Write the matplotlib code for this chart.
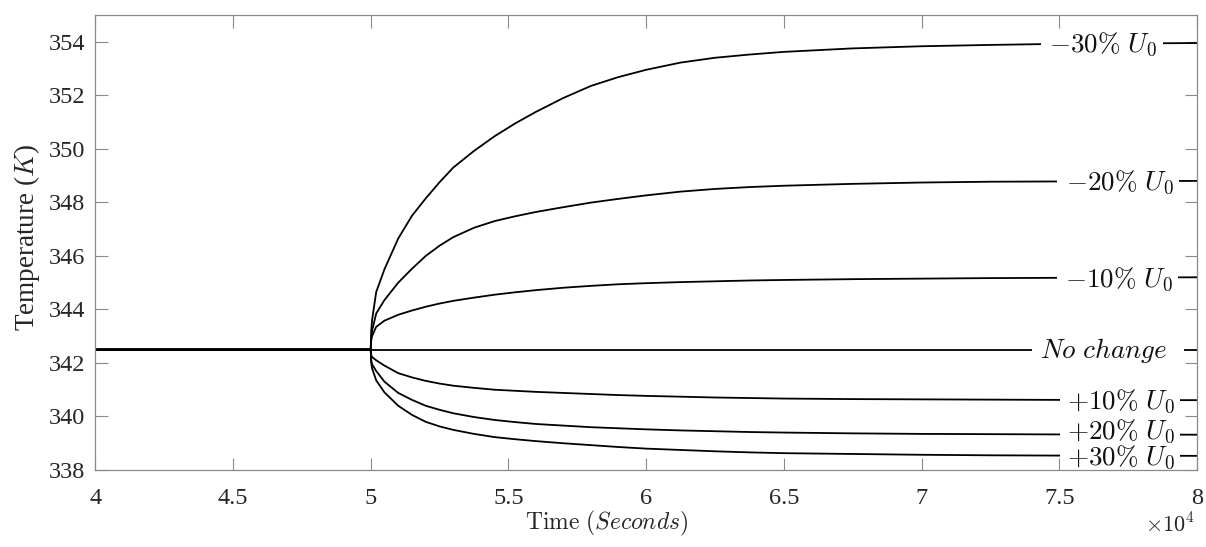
import matplotlib
matplotlib.use("Agg")
import matplotlib.pyplot as plt
from matplotlib.path import Path

plt.rcParams['font.family'] = ['Liberation Serif', 'DejaVu Serif']
plt.rcParams['mathtext.fontset'] = 'cm'

# Time in units of 10^4 seconds
time = [4.0, 5.0, 5.002, 5.005, 5.02, 5.05, 5.1, 5.15, 5.2, 5.25, 5.3, 5.375,
        5.45, 5.525, 5.6, 5.7, 5.8, 5.9, 6.0, 6.125, 6.25, 6.375, 6.5, 6.75,
        7.0, 7.25, 7.5, 8.0]

temp_m30 = [342.5, 342.5, 343.2, 343.6, 344.65, 345.5, 346.65, 347.5, 348.15,
            348.75, 349.3, 349.92, 350.47, 350.95, 351.38, 351.9, 352.35,
            352.68, 352.95, 353.22, 353.4, 353.52, 353.62, 353.75, 353.83,
            353.88, 353.92, 353.95]
temp_m20 = [342.5, 342.5, 342.95, 343.2, 343.85, 344.35, 345.0, 345.52, 346.0,
            346.38, 346.7, 347.05, 347.3, 347.48, 347.64, 347.82, 347.99,
            348.13, 348.26, 348.4, 348.5, 348.57, 348.62, 348.69, 348.74,
            348.77, 348.78, 348.8]
temp_m10 = [342.5, 342.5, 342.85, 343.0, 343.35, 343.58, 343.8, 343.96, 344.1,
            344.22, 344.32, 344.44, 344.55, 344.64, 344.72, 344.81, 344.88,
            344.94, 344.98, 345.02, 345.05, 345.08, 345.1, 345.13, 345.15,
            345.17, 345.18, 345.2]
temp_0 = [342.5] * len(time)
temp_p10 = [342.5, 342.5, 342.3, 342.22, 342.1, 341.9, 341.62, 341.46, 341.33,
            341.23, 341.15, 341.07, 341.0, 340.96, 340.92, 340.88, 340.84,
            340.8, 340.77, 340.74, 340.71, 340.69, 340.67, 340.65, 340.64,
            340.63, 340.62, 340.61]
temp_p20 = [342.5, 342.5, 342.1, 341.95, 341.7, 341.3, 340.88, 340.62, 340.4,
            340.25, 340.12, 339.98, 339.87, 339.79, 339.72, 339.66, 339.6,
            339.56, 339.52, 339.48, 339.45, 339.42, 339.4, 339.37, 339.35,
            339.34, 339.33, 339.32]
temp_p30 = [342.5, 342.5, 342.0, 341.8, 341.35, 340.9, 340.4, 340.06, 339.8,
            339.63, 339.5, 339.35, 339.23, 339.15, 339.08, 339.0, 338.93,
            338.86, 338.8, 338.75, 338.7, 338.66, 338.63, 338.6, 338.57,
            338.55, 338.54, 338.53]

series = [temp_m30, temp_m20, temp_m10, temp_0, temp_p10, temp_p20, temp_p30]
labels = [r'${-}30\%\ U_0$', r'${-}20\%\ U_0$', r'${-}10\%\ U_0$',
          r'$No\ change$',
          r'${+}10\%\ U_0$', r'${+}20\%\ U_0$', r'${+}30\%\ U_0$']
label_x = [7.462, 7.525, 7.521, 7.430, 7.528, 7.528, 7.528]
label_dy = [-6.2, -6.2, -6.2, -6.2, -6.2, -3.0, -6.2]
# white gap (in font-size units) left / right of each label
gap_left = [0.29, 0.33, 0.3, 0.29, 0.25, 0.25, 0.25]
gap_right = [0.22, 0.2, 0.2, 0.62, 0.2, 0.2, 0.2]

xticks = [4, 4.5, 5, 5.5, 6, 6.5, 7, 7.5, 8]
xticklabels = ['4', '4.5', '5', '5.5', '6', '6.5', '7', '7.5', '8']
yticks = [338, 340, 342, 344, 346, 348, 350, 352, 354]


def gap_box(lpad, rpad):
    def box(x0, y0, width, height, mutation_size):
        a = x0 - lpad * mutation_size
        b = x0 + width + rpad * mutation_size
        return Path([(a, y0), (b, y0), (b, y0 + height), (a, y0 + height),
                     (a, y0)], closed=True)
    return box


fig = plt.figure(figsize=(12.06, 5.47), dpi=100)
ax = fig.add_axes([0.079, 0.1407, 0.9135, 0.832])

for ys, lab, lx, dy, gl, gr in zip(series, labels, label_x, label_dy,
                                   gap_left, gap_right):
    ax.plot(time, ys, color='black', lw=1.3, zorder=2)
    ax.annotate(lab, xy=(lx, ys[-1]), xytext=(0, dy),
                textcoords='offset points', ha='left', va='baseline',
                fontsize=19.5, color='#111111', zorder=3,
                bbox=dict(boxstyle=gap_box(gl, gr), fc='white', ec='none'))

ax.set_xlim(4, 8)
ax.set_ylim(338, 355)
ax.set_xticks(xticks)
ax.set_xticklabels(xticklabels)
ax.set_yticks(yticks)

spine_col = '#8a8a8a'
for s in ax.spines.values():
    s.set_color(spine_col)
    s.set_linewidth(0.9)
    s.set_zorder(5)
ax.tick_params(direction='in', length=9, width=0.8, color=spine_col,
               labelsize=17.5, labelcolor='#262626', top=True, right=True)
ax.tick_params(axis='x', pad=13)
ax.tick_params(axis='y', pad=7)

ax.set_xlabel(r'$\mathrm{Time}\ (Seconds)$', fontsize=17, color='#262626')
ax.xaxis.set_label_coords(0.4646, -0.085)
ax.set_ylabel(r'Temperature ($K$)', fontsize=19.5, color='#262626')
ax.yaxis.set_label_coords(-0.048, 0.51)
fig.text(0.970, 0.04, r'$\times10^4$', fontsize=16, color='#262626',
         ha='center', va='center')

fig.savefig('out.png', dpi=100)
